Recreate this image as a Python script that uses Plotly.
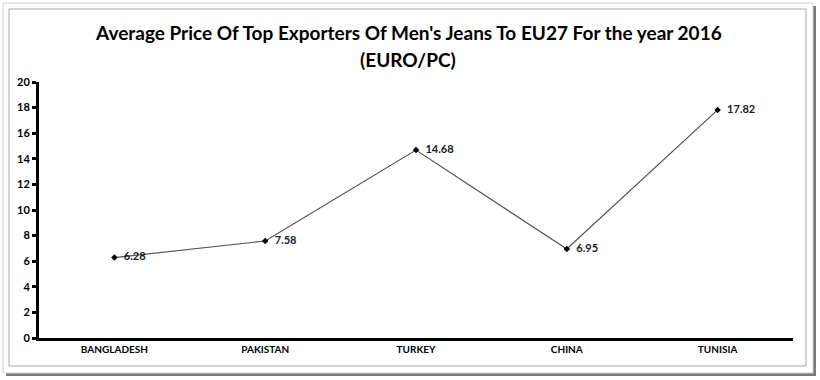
import plotly.graph_objects as go

categories = ["BANGLADESH", "PAKISTAN", "TURKEY", "CHINA", "TUNISIA"]
prices = [6.28, 7.58, 14.68, 6.95, 17.82]
price_labels = ["6.28", "7.58", "14.68", "6.95", "17.82"]
y_ticks = [0, 2, 4, 6, 8, 10, 12, 14, 16, 18, 20]
title_line1 = "Average Price Of Top Exporters Of Men's Jeans To EU27 For the year 2016"
title_line2 = "(EURO/PC)"

W, H = 820, 380
L, R, T, B = 39, 27, 82, 42
pw, ph = W - L - R, H - T - B

def px(x):
    return (x - L) / pw

def py(y):
    return (H - B - y) / ph

FONT = "Lato"

fig = go.Figure()
fig.add_trace(go.Scatter(
    x=categories, y=prices, mode="lines+markers+text",
    text=["  " + t for t in price_labels], textposition="middle right",
    textfont=dict(family=FONT, size=11, color="#1a1a2e", weight="bold"),
    line=dict(color="#505050", width=1.2),
    marker=dict(symbol="diamond", size=5, color="#000000"),
    cliponaxis=False, hoverinfo="skip",
))

shapes = [
    dict(type="rect", xref="paper", yref="paper", x0=px(6), x1=px(816), y0=py(376), y1=py(6),
         fillcolor="#7a7a7a", line=dict(width=0), layer="below"),
    dict(type="rect", xref="paper", yref="paper", x0=px(3), x1=px(813), y0=py(373), y1=py(3),
         fillcolor="#ffffff", line=dict(color="#d0d0d0", width=1), layer="below"),
    dict(type="rect", xref="paper", yref="paper", x0=px(9), x1=px(806), y0=py(366), y1=py(9),
         fillcolor="#ffffff", line=dict(color="#a8a8a8", width=1), layer="below"),
]

annotations = [
    dict(text=title_line1, xref="paper", yref="paper", x=px(408), y=py(32),
         xanchor="center", yanchor="middle", showarrow=False,
         font=dict(family=FONT, size=19, color="#000000", weight="bold")),
    dict(text=title_line2, xref="paper", yref="paper", x=px(408), y=py(59),
         xanchor="center", yanchor="middle", showarrow=False,
         font=dict(family=FONT, size=19, color="#000000", weight="bold")),
]

fig.update_layout(
    width=W, height=H,
    margin=dict(l=L, r=R, t=T, b=B),
    paper_bgcolor="#ffffff", plot_bgcolor="rgba(0,0,0,0)",
    showlegend=False,
    shapes=shapes,
    annotations=annotations,
    xaxis=dict(
        range=[-0.5, 4.5],
        showgrid=False, zeroline=False, showline=True, linecolor="#000000", linewidth=3,
        ticks="", tickfont=dict(family=FONT, size=10, color="#000000", weight="bold"),
        fixedrange=True,
    ),
    yaxis=dict(
        range=[0, 20], tickvals=y_ticks, showgrid=False, zeroline=False,
        showline=True, linecolor="#000000", linewidth=3,
        ticks="outside", ticklen=4, tickwidth=3, tickcolor="#000000",
        tickfont=dict(family=FONT, size=11, color="#000000", weight="bold"),
        fixedrange=True,
    ),
)

fig.write_html("out.html", config={"displayModeBar": False},
               post_script="document.body.style.margin='0';")
